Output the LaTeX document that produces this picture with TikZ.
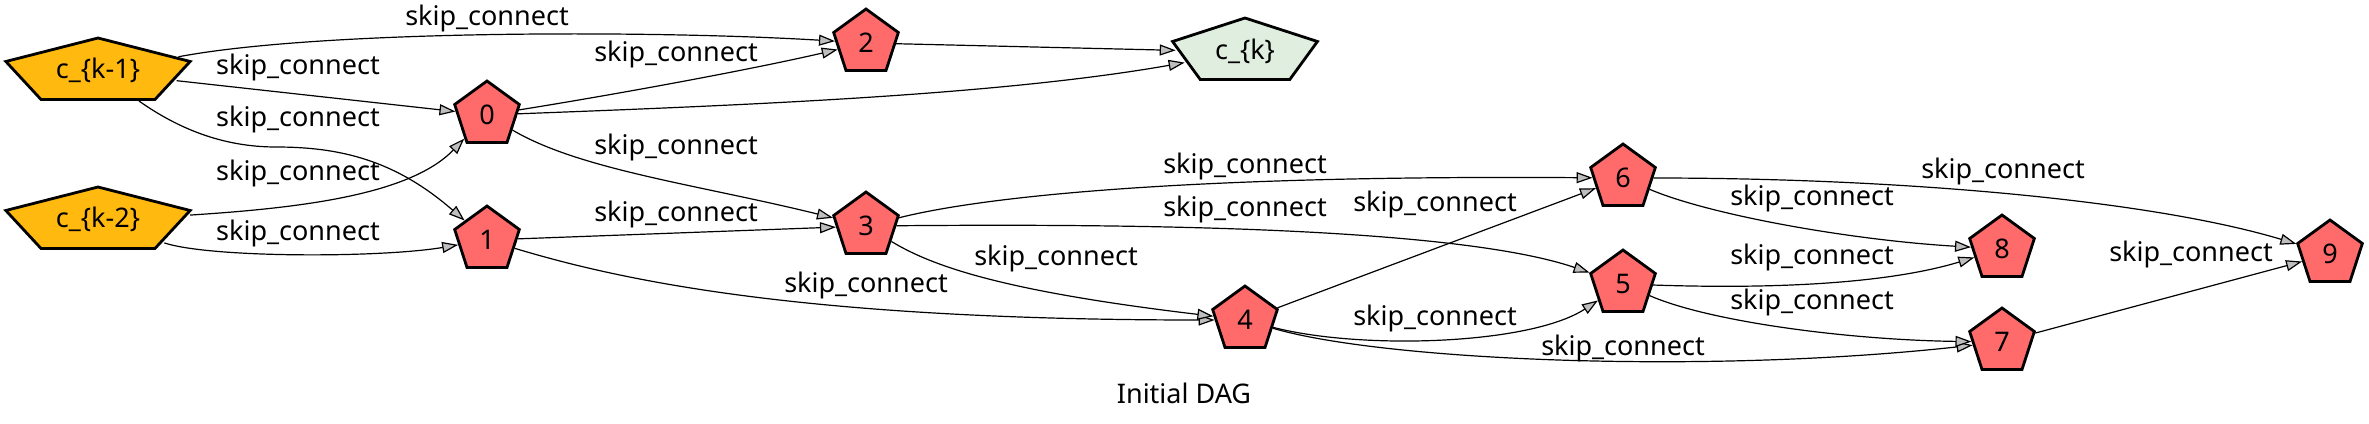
\documentclass[tikz,border=0pt]{standalone}
\usepackage{fontspec}
\setmainfont{Noto Sans}
\usetikzlibrary{shapes.geometric,arrows.meta}
\definecolor{nred}{HTML}{FF6A6A}
\definecolor{corange}{HTML}{FFB90F}
\definecolor{cgreen}{HTML}{E0EEE0}
\definecolor{arrgray}{RGB}{190,190,190}
\newcommand\lbfont{\fontsize{13.5pt}{16pt}\selectfont}
\begin{document}
\begin{tikzpicture}[x=0.5pt,y=-0.5pt,
  pent/.style={regular polygon, regular polygon sides=5, minimum size=34pt, inner sep=0pt,
    draw=black, line width=1.4pt},
  pnode/.style={pent, fill=nred, font=\lbfont},
  elabel/.style={inner sep=0pt, font=\lbfont},
  conn/.style={draw=black, line width=0.6pt, -{Triangle[length=8pt,width=5.5pt,fill=arrgray]}}]
\useasboundingbox (0,0) rectangle (2369,423);
% input nodes
\node[pent, fill=corange, xscale=2.85] (ck1) at (98,72) {};
\node[elabel] (ck1t) at (98,70) {c\_\{k-1\}};
\node[pent, fill=corange, xscale=2.85] (ck2) at (98,221) {};
\node[elabel] (ck2t) at (98,219) {c\_\{k-2\}};
\node[pent, fill=cgreen, xscale=2.24] (ck) at (1245,52) {};
\node[elabel] (ckt) at (1245,51) {c\_\{k\}};
% numbered nodes
\node[pnode] (n0) at (487,115) {0};
\node[pnode] (n1) at (487,240) {1};
\node[pnode] (n2) at (866,43) {2};
\node[pnode] (n3) at (866,226) {3};
\node[pnode] (n4) at (1245,320) {4};
\node[pnode] (n5) at (1623,284) {5};
\node[pnode] (n6) at (1623,178) {6};
\node[pnode] (n7) at (2002,342) {7};
\node[pnode] (n8) at (2002,249) {8};
\node[pnode] (n9) at (2330,254) {9};
% edges
\draw[conn] (ck1) .. controls (320,30) and (650,30) .. (n2);
\draw[conn] (ck1) -- (n0);
\draw[conn] (ck1) .. controls (180,130) and (225,147) .. (276,147) .. controls (340,147) and (395,160) .. (n1);
\draw[conn] (ck2) .. controls (300,208) and (410,195) .. (n0);
\draw[conn] (ck2) .. controls (210,258) and (380,258) .. (n1);
\draw[conn] (n0) .. controls (600,97) and (740,72) .. (n2);
\draw[conn] (n0) .. controls (750,105) and (1000,95) .. (ck);
\draw[conn] (n0) .. controls (580,170) and (700,185) .. (n3);
\draw[conn] (n1) -- (n3);
\draw[conn] (n1) .. controls (620,280) and (800,320) .. (n4);
\draw[conn] (n2) -- (ck);
\draw[conn] (n3) .. controls (990,195) and (1200,175) .. (n6);
\draw[conn] (n3) .. controls (1100,224) and (1450,225) .. (n5);
\draw[conn] (n3) .. controls (935,268) and (1010,292) .. (n4);
\draw[conn] (n4) -- (n6);
\draw[conn] (n4) .. controls (1360,350) and (1530,345) .. (n5);
\draw[conn] (n4) .. controls (1380,360) and (1700,375) .. (n7);
\draw[conn] (n6) .. controls (1710,215) and (1850,240) .. (n8);
\draw[conn] (n6) .. controls (1900,178) and (2150,200) .. (n9);
\draw[conn] (n5) .. controls (1800,290) and (1900,280) .. (n8);
\draw[conn] (n5) .. controls (1710,322) and (1850,340) .. (n7);
\draw[conn] (n7) -- (n9);
% edge labels
\node[elabel] (l1) at (487,18) {skip\_connect};
\node[elabel] (l2) at (298,67) {skip\_connect};
\node[elabel] (l3) at (298,119) {skip\_connect};
\node[elabel] (l4) at (298,173) {skip\_connect};
\node[elabel] (l5) at (298,233) {skip\_connect};
\node[elabel] (l6) at (676,54) {skip\_connect};
\node[elabel] (l7) at (676,147) {skip\_connect};
\node[elabel] (l8) at (676,214) {skip\_connect};
\node[elabel] (l9) at (866,285) {skip\_connect};
\node[elabel] (l10) at (1245,166) {skip\_connect};
\node[elabel] (l11) at (1245,209) {skip\_connect};
\node[elabel] (l12) at (1056,258) {skip\_connect};
\node[elabel] (l13) at (1435,204) {skip\_connect};
\node[elabel] (l14) at (1435,318) {skip\_connect};
\node[elabel] (l15) at (1623,348) {skip\_connect};
\node[elabel] (l16) at (1812,198) {skip\_connect};
\node[elabel] (l17) at (1812,257) {skip\_connect};
\node[elabel] (l18) at (1812,302) {skip\_connect};
\node[elabel] (l19) at (2003,171) {skip\_connect};
\node[elabel] (l20) at (2191,254) {skip\_connect};
% caption
\node[elabel] (cap) at (1184,393) {Initial DAG};
\end{tikzpicture}
\end{document}
